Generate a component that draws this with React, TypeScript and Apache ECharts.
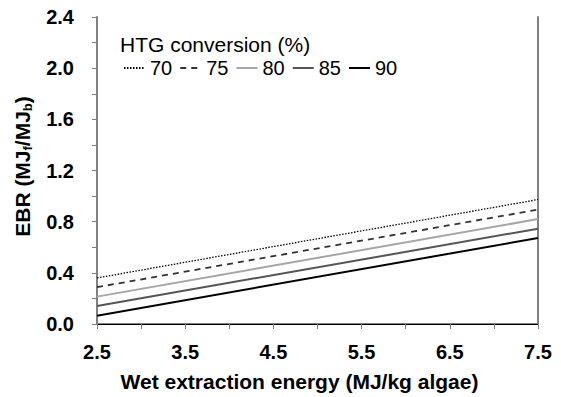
import React, { useEffect, useRef } from "react";
import * as echarts from "echarts";

const xValues = [2.5, 7.5];
const seriesNames = ["70", "75", "80", "85", "90"];
const ebr70 = [0.36, 0.973];
const ebr75 = [0.288, 0.894];
const ebr80 = [0.214, 0.82];
const ebr85 = [0.141, 0.745];
const ebr90 = [0.065, 0.672];
const allValues = [ebr70, ebr75, ebr80, ebr85, ebr90];

const lineStyles = [
  { color: "#000000", type: [1.5, 1.5], width: 1.3 },
  { color: "#333333", type: [6, 5], width: 1.8 },
  { color: "#a6a6a6", type: "solid", width: 2 },
  { color: "#555555", type: "solid", width: 2 },
  { color: "#000000", type: "solid", width: 2 },
];

export default function App() {
  const ref = useRef<HTMLDivElement>(null);
  useEffect(() => {
    document.body.style.margin = "0";
    if (!ref.current) return;
    const chart = echarts.init(ref.current, null, { renderer: "svg" });
    const font = "Arial, 'Liberation Sans', sans-serif";
    chart.setOption({
      animation: false,
      textStyle: { fontFamily: font },
      grid: { left: 97, right: 23, top: 17, bottom: 73, containLabel: false },
      graphic: [
        {
          type: "text",
          left: 120,
          top: 34,
          style: { text: "HTG conversion (%)", font: `21px ${font}`, fill: "#000" },
        },
      ],
      legend: {
        left: 123,
        top: 58,
        padding: 0,
        itemWidth: 21,
        itemHeight: 12,
        itemGap: 7,
        itemStyle: { opacity: 0 },
        textStyle: { fontSize: 20, color: "#000", fontFamily: font },
        data: seriesNames,
      },
      xAxis: [
        {
          type: "value",
          min: 2.5,
          max: 7.5,
          interval: 0.5,
          name: "Wet extraction energy (MJ/kg algae)",
          nameLocation: "middle",
          nameGap: 47,
          nameTextStyle: {
            fontSize: 21,
            fontWeight: "bold",
            color: "#000",
            fontFamily: font,
            padding: [0, 36, 0, 0],
          },
          axisLine: { show: true, lineStyle: { color: "#808080", width: 2 } },
          axisTick: { show: true, inside: false, length: 5, lineStyle: { color: "#808080", width: 1 } },
          axisLabel: {
            fontSize: 20,
            fontWeight: "bold",
            color: "#000",
            margin: 18,
            fontFamily: font,
            formatter: (v: number) => (Math.abs((v - 2.5) % 1) < 1e-6 ? v.toFixed(1) : ""),
          },
          splitLine: { show: false },
        },
        {
          type: "value",
          position: "top",
          min: 2.5,
          max: 7.5,
          axisLine: { show: true, lineStyle: { color: "#000", width: 1 } },
          axisTick: { show: false },
          axisLabel: { show: false },
          splitLine: { show: false },
        },
      ],
      yAxis: [
        {
          type: "value",
          min: 0,
          max: 2.4,
          interval: 0.4,
          name: "EBR (MJ{sub|f}/MJ{sub|b})",
          nameLocation: "middle",
          nameRotate: 90,
          nameGap: 63,
          nameTextStyle: {
            fontSize: 21,
            fontWeight: "bold",
            color: "#000",
            fontFamily: font,
            padding: [0, 0, 0, 8],
            rich: {
              sub: {
                fontSize: 13,
                fontWeight: "bold",
                color: "#000",
                verticalAlign: "bottom",
                padding: [10, 0, 0, 0],
                fontFamily: font,
              },
            },
          },
          axisLine: { show: true, lineStyle: { color: "#808080", width: 2 } },
          axisTick: { show: true, inside: false, length: 5, lineStyle: { color: "#808080", width: 1 } },
          minorTick: { show: true, splitNumber: 2, length: 5, lineStyle: { color: "#808080", width: 1 } },
          axisLabel: {
            fontSize: 20,
            fontWeight: "bold",
            color: "#000",
            margin: 23,
            fontFamily: font,
            formatter: (v: number) => v.toFixed(1),
          },
          splitLine: { show: false },
        },
        {
          type: "value",
          position: "right",
          min: 0,
          max: 2.4,
          axisLine: { show: true, lineStyle: { color: "#808080", width: 2 } },
          axisTick: { show: false },
          axisLabel: { show: false },
          splitLine: { show: false },
        },
      ],
      series: seriesNames.map((name, i) => ({
        name,
        type: "line",
        xAxisIndex: 0,
        yAxisIndex: 0,
        showSymbol: false,
        symbol: "none",
        data: xValues.map((x, j) => [x, allValues[i][j]]),
        lineStyle: lineStyles[i],
        itemStyle: { color: lineStyles[i].color },
      })),
    });
    return () => chart.dispose();
  }, []);
  return <div ref={ref} style={{ width: 561, height: 397 }} />;
}
